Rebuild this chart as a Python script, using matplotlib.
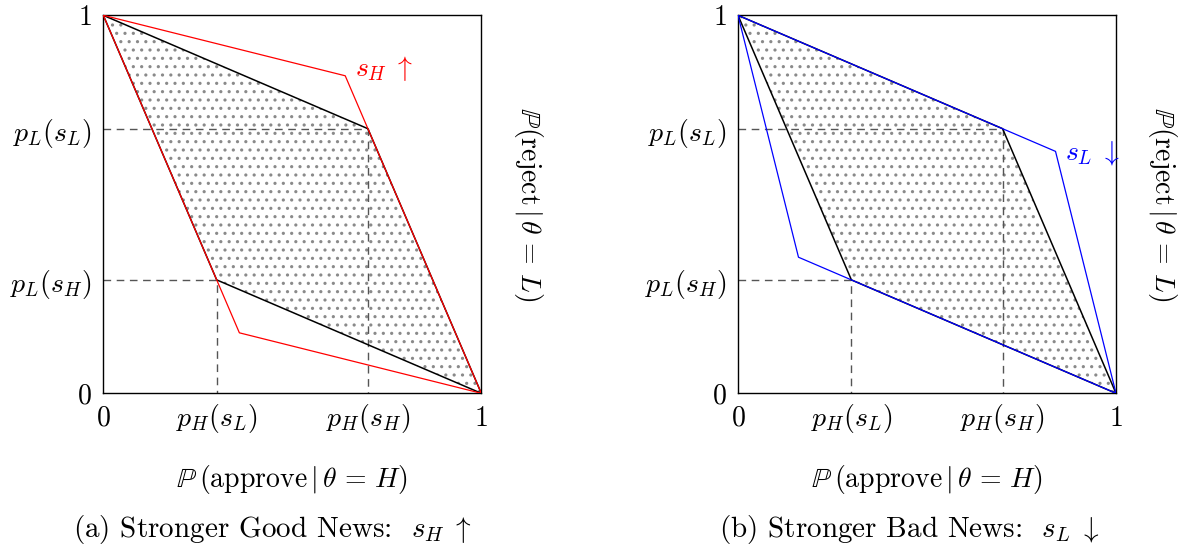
import matplotlib
matplotlib.use("Agg")
import matplotlib.pyplot as plt
from matplotlib.patches import Polygon

plt.rcParams['mathtext.fontset'] = 'cm'
plt.rcParams['font.family'] = 'serif'
plt.rcParams['font.serif'] = ['cmr10', 'DejaVu Serif']
plt.rcParams['axes.unicode_minus'] = False
plt.rcParams['hatch.linewidth'] = 1.1

# ---- data ----
p_H_sL = 0.30   # x of lower kink
p_H_sH = 0.70   # x of upper kink
p_L_sH = 0.30   # y of lower kink
p_L_sL = 0.70   # y of upper kink

# baseline parallelogram (x, y)
base_x = [0.0, p_H_sH, 1.0, p_H_sL, 0.0]
base_y = [1.0, p_L_sL, 0.0, p_L_sH, 1.0]

# panel (a): stronger good news, s_H up
red_x = [0.0, 0.64, p_H_sH, 1.0, 0.36, p_H_sL, 0.0]
red_y = [1.0, 0.84, p_L_sL, 0.0, 0.16, p_L_sH, 1.0]

# panel (b): stronger bad news, s_L down
blue_x = [0.0, p_H_sH, 0.84, 1.0, p_H_sL, 0.16, 0.0]
blue_y = [1.0, p_L_sL, 0.64, 0.0, p_L_sH, 0.36, 1.0]

xtick_vals = [0.0, p_H_sL, p_H_sH, 1.0]
xtick_labels = ['$0$', r'$p_H(s_L)$', r'$p_H(s_H)$', '$1$']
ytick_vals = [0.0, p_L_sH, p_L_sL, 1.0]
ytick_labels = ['$0$', r'$p_L(s_H)$', r'$p_L(s_L)$', '$1$']

xlabel = r'$\mathbb{P}\,(\mathrm{approve}\,|\,\theta\,=\,H)$'
ylabel = r'$\mathbb{P}(\mathrm{reject}\,|\,\theta\,=\,L)$'
captions = [r'(a) Stronger Good News:  $s_H\;\uparrow$',
            r'(b) Stronger Bad News:  $s_L\;\downarrow$']
shift_labels = [r'$s_H\;\uparrow$', r'$s_L\;\downarrow$']
shift_label_pos = [(0.667, 0.86), (0.865, 0.635)]
shift_colors = ['#ff0000', '#0000ff']
shift_paths = [(red_x, red_y), (blue_x, blue_y)]

W, H = 1187, 547
fig = plt.figure(figsize=(W / 100, H / 100), dpi=100)

FS = 20
CAP_FS = 21
ax_left_px = [103.3, 738.0]
ax_size = 378.0
ax_bottom_px = 393.3
caption_cx = [272.5, 909]

for i in range(2):
    ax = fig.add_axes([ax_left_px[i] / W, (H - ax_bottom_px) / H,
                       ax_size / W, ax_size / H])
    ax.set_xlim(0, 1)
    ax.set_ylim(0, 1)
    for s in ax.spines.values():
        s.set_linewidth(1.0)
        s.set_color('black')

    # dotted shaded region
    poly = Polygon(list(zip(base_x, base_y)), closed=True, facecolor='none',
                   edgecolor='#8a8a8a', linewidth=0, hatch='..', zorder=1)
    ax.add_patch(poly)

    # dashed guides
    dash = dict(color='#555555', lw=1.0, linestyle=(0, (5.5, 4)), zorder=2)
    ax.plot([0, p_H_sH, p_H_sH], [p_L_sL, p_L_sL, 0], **dash)
    ax.plot([0, p_H_sL, p_H_sL], [p_L_sH, p_L_sH, 0], **dash)

    # baseline parallelogram
    ax.plot(base_x, base_y, color='black', lw=1.1, zorder=3)

    # shifted frontier
    sx, sy = shift_paths[i]
    ax.plot(sx, sy, color=shift_colors[i], lw=0.9, zorder=4)
    ax.text(shift_label_pos[i][0], shift_label_pos[i][1], shift_labels[i],
            color=shift_colors[i], fontsize=FS, ha='left', va='center')

    # ticks
    ax.set_xticks(xtick_vals)
    ax.set_xticklabels(xtick_labels, fontsize=FS)
    ax.set_yticks(ytick_vals)
    ax.set_yticklabels(ytick_labels, fontsize=FS)
    ax.tick_params(axis='x', length=0, pad=23.5)
    ax.tick_params(axis='y', length=0, pad=8)
    for lab in ax.get_xticklabels():
        lab.set_verticalalignment('baseline')
    for lab in ax.get_yticklabels():
        lab.set_verticalalignment('center_baseline')

    # axis labels
    ax.text(0.5, -(480 - ax_bottom_px) / ax_size, xlabel, fontsize=FS,
            ha='center', va='center', transform=ax.transAxes)
    ax.text(1 + 47 / ax_size, 0.5, ylabel, fontsize=FS, rotation=270,
            ha='center', va='center', transform=ax.transAxes)

    fig.text(caption_cx[i] / W, 1 - 529 / H, captions[i], fontsize=CAP_FS,
             ha='center', va='center')

fig.savefig('out.png', dpi=100)
